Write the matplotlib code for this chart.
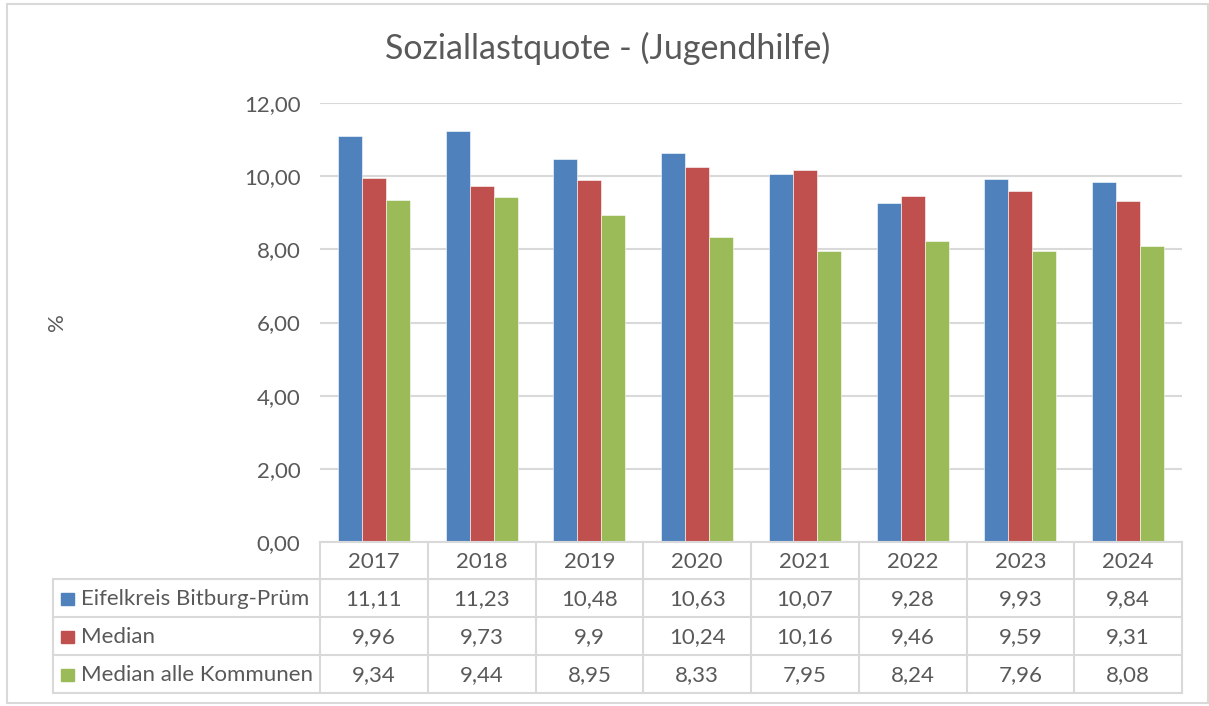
import numpy as np
import matplotlib
matplotlib.use("Agg")
import matplotlib.pyplot as plt

years = ["2017", "2018", "2019", "2020", "2021", "2022", "2023", "2024"]
series_names = ["Eifelkreis Bitburg-Prüm", "Median", "Median alle Kommunen"]
eifelkreis = [11.11, 11.23, 10.48, 10.63, 10.07, 9.28, 9.93, 9.84]
median = [9.96, 9.73, 9.9, 10.24, 10.16, 9.46, 9.59, 9.31]
median_alle = [9.34, 9.44, 8.95, 8.33, 7.95, 8.24, 7.96, 8.08]
colors = ["#4F81BD", "#C0504D", "#9BBB59"]
yticks = [0, 2, 4, 6, 8, 10, 12]

plt.rcParams["font.family"] = ["Lato", "DejaVu Sans"]
txt = "#595959"
grid = "#D9D9D9"

W, H = 1209, 706
fig = plt.figure(figsize=(W / 100, H / 100), dpi=100)

# pixel layout of the plot area
px_l, px_r, px_t, px_b = 320, 1182, 103, 542
ax = fig.add_axes([px_l / W, 1 - px_b / H, (px_r - px_l) / W, (px_b - px_t) / H])

series = [eifelkreis, median, median_alle]
x = np.arange(len(years))
bw = 0.223
for i, (vals, c) in enumerate(zip(series, colors)):
    ax.bar(x + (i - 1) * bw, vals, width=bw, color=c, edgecolor="white", linewidth=0.4, zorder=3)

ax.set_xlim(-0.5, len(years) - 0.5)
ax.set_ylim(0, 12)
ax.set_yticks(yticks)
ax.set_yticklabels([f"{v:.2f}".replace(".", ",") for v in yticks], fontsize=16, color=txt)
ax.tick_params(axis="y", length=0, pad=14)
ax.set_xticks([])
ax.grid(axis="y", color=grid, linewidth=1.5, zorder=0)
for s in ax.spines.values():
    s.set_visible(False)

# overlay in pixel coordinates for frame, title, label and data table
ov = fig.add_axes([0, 0, 1, 1], zorder=-1)
ov.set_xlim(0, W)
ov.set_ylim(H, 0)
ov.axis("off")
ov.add_patch(plt.Rectangle((7, 4), W - 8, H - 7, fill=False, edgecolor=grid, linewidth=1.5))

ov.text(608, 48, "Soziallastquote - (Jugendhilfe)", fontsize=24.5, color=txt, ha="center", va="center")
ov.text(57, 322, "%", fontsize=16, color=txt, ha="center", va="center", rotation=90)

tov = fig.add_axes([0, 0, 1, 1])
tov.set_xlim(0, W)
tov.set_ylim(H, 0)
tov.axis("off")
tov.patch.set_alpha(0)

col_w = (px_r - px_l) / len(years)
rows = [542, 579, 617, 655, 693]
tbl_l = 53
lc = "#D9D9D9"
lw = 1.5
tov.plot([px_l, px_r], [rows[0], rows[0]], color=lc, lw=lw)
for r in rows[1:]:
    tov.plot([tbl_l, px_r], [r, r], color=lc, lw=lw)
tov.plot([tbl_l, tbl_l], [rows[1], rows[-1]], color=lc, lw=lw)
for k in range(len(years) + 1):
    xx = px_l + k * col_w
    tov.plot([xx, xx], [rows[0], rows[-1]], color=lc, lw=lw)

for k, yr in enumerate(years):
    tov.text(px_l + (k + 0.5) * col_w, (rows[0] + rows[1]) / 2 + 1, yr, fontsize=16,
             color=txt, ha="center", va="center")

for i, (name, vals, c) in enumerate(zip(series_names, series, colors)):
    yc = (rows[i + 1] + rows[i + 2]) / 2 + 1
    tov.add_patch(plt.Rectangle((61, yc - 6.5), 12.5, 12.5, color=c))
    tov.text(81, yc, name, fontsize=16, color=txt, ha="left", va="center")
    for k, v in enumerate(vals):
        tov.text(px_l + (k + 0.5) * col_w, yc, str(v).replace(".", ","), fontsize=16,
                 color=txt, ha="center", va="center")

fig.savefig("out.png", dpi=100)
